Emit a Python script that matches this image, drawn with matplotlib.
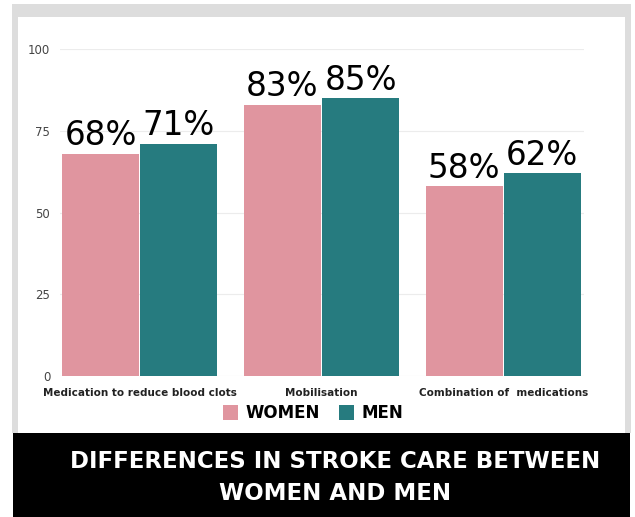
import matplotlib.pyplot as plt
import numpy as np
from matplotlib.patches import Rectangle

categories = ["Medication to reduce blood clots", "Mobilisation", "Combination of  medications"]
women = [68, 83, 58]
men = [71, 85, 62]
yticks = [0, 25, 50, 75, 100]
title = "DIFFERENCES IN STROKE CARE BETWEEN\nWOMEN AND MEN"

WOMEN_COLOR = "#e0959f"
MEN_COLOR = "#267b7f"

W, H = 635, 517
fig = plt.figure(figsize=(W / 100, H / 100), dpi=100)
fig.patch.set_facecolor("white")


def px_rect(x0, y0, x1, y1, color, z=-10):
    # rectangle given in pixel coords measured from the top-left corner
    fig.patches.append(Rectangle((x0 / W, 1 - y1 / H), (x1 - x0) / W, (y1 - y0) / H,
                                 transform=fig.transFigure, facecolor=color,
                                 edgecolor="none", zorder=z))


# card frame, white panel and black caption band
px_rect(12, 4, 631, 433, "#dddddd")
px_rect(18, 17, 625, 433, "white", z=-9)
px_rect(13, 433, 630, 517, "black", z=-8)

ax = fig.add_axes([60 / W, 1 - 376 / H, (584 - 60) / W, (376 - 49) / H])
ax.set_facecolor("none")

x = np.arange(len(categories))
bw = 0.424
off = 0.215
b1 = ax.bar(x - off, women, bw, color=WOMEN_COLOR, label="WOMEN", zorder=2)
b2 = ax.bar(x + off, men, bw, color=MEN_COLOR, label="MEN", zorder=2)

for bars in (b1, b2):
    for bar in bars:
        h = bar.get_height()
        ax.annotate(f"{h:.0f}%", xy=(bar.get_x() + bar.get_width() / 2, h),
                    xytext=(0, 1), textcoords="offset points",
                    ha="center", va="bottom", fontsize=23.5, color="black",
                    family="DejaVu Sans")

ax.set_xlim(-0.44, 2.445)
ax.set_ylim(0, 100)
ax.set_yticks(yticks)
ax.set_yticklabels([str(v) for v in yticks], fontsize=8.5, color="#444444")
ax.set_xticks(x)
ax.set_xticklabels(categories, fontsize=7.5, fontweight="bold", color="#222222")
ax.tick_params(length=0)
ax.tick_params(axis="y", pad=7)
ax.tick_params(axis="x", pad=9)
ax.yaxis.grid(True, color="#ececec", linewidth=0.8, zorder=0)
ax.set_axisbelow(True)
for s in ax.spines.values():
    s.set_visible(False)

ax.legend(loc="center", bbox_to_anchor=(0.483, -0.113), ncol=2, frameon=False,
          prop={"weight": "bold", "size": 12}, handlelength=0.9, handleheight=1.0,
          columnspacing=1.2, handletextpad=0.4)

fig.text(335 / W, 1 - 477 / H, title, color="white", fontsize=16.5, fontweight="bold",
         ha="center", va="center", linespacing=1.5)

fig.savefig("out.png", dpi=100)
